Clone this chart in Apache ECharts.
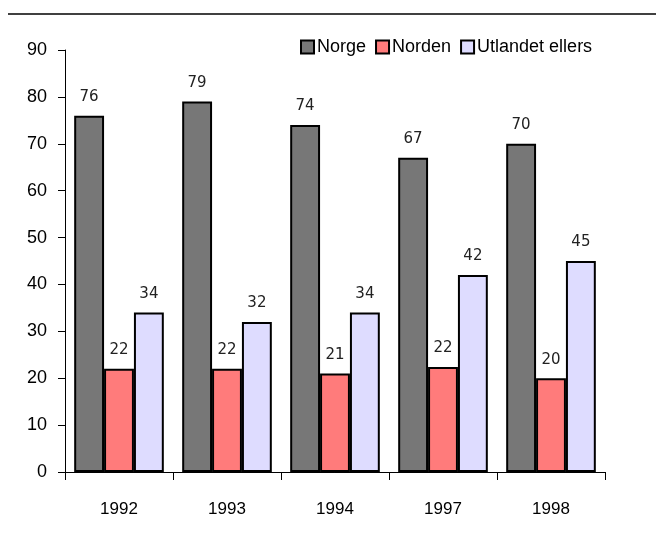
<!DOCTYPE html>
<html>
<head>
<meta charset="utf-8">
<script src="https://cdn.jsdelivr.net/npm/echarts@6/dist/echarts.min.js"></script>
<style>
  html, body { margin: 0; padding: 0; background: #fff; }
  #chart { width: 666px; height: 538px; }
</style>
</head>
<body>
<div id="chart"></div>
<script>
// chart data
const years = ['1992', '1993', '1994', '1997', '1998']
const norge = [76, 79, 74, 67, 70]
const norden = [22, 22, 21, 22.4, 20]
const utlandet = [34, 32, 34, 42, 45]
const seriesNames = ['Norge', 'Norden', 'Utlandet ellers']

const sans = '"Liberation Sans Narrow", "Liberation Sans", Arial, sans-serif'

const label = {
  show: true,
  position: 'top',
  distance: 10,
  color: '#222',
  fontSize: 15,
  fontFamily: 'DejaVu Sans, sans-serif',
  backgroundColor: '#fff',
  padding: [1, 2],
  formatter: p => Math.round(p.value)
}

const makeSeries = (name, data, color) => ({
  name: name,
  type: 'bar',
  data: data,
  barGap: '0%',
  barCategoryGap: '17%',
  itemStyle: { color: color, borderColor: '#000', borderWidth: 2 },
  label: label
})

const chart = echarts.init(document.getElementById('chart'))
chart.setOption({
  animation: false,
  grid: { left: 65, right: 61, top: 50, bottom: 66 },
  graphic: [{
    type: 'line',
    shape: { x1: 8, y1: 14, x2: 656, y2: 14 },
    style: { stroke: '#000', lineWidth: 1.5 }
  }],
  legend: {
    data: seriesNames,
    left: 295,
    top: 33,
    itemWidth: 13,
    itemHeight: 13,
    itemGap: 9,
    icon: 'rect',
    textStyle: { fontSize: 18, fontFamily: sans, color: '#000', padding: [0, 0, 0, -2] }
  },
  xAxis: {
    type: 'category',
    data: years,
    axisLine: { lineStyle: { color: '#000', width: 1 } },
    axisTick: { show: true, length: 8, lineStyle: { color: '#000', width: 1 } },
    axisLabel: { margin: 29, fontSize: 17, fontFamily: sans, color: '#000' }
  },
  yAxis: {
    type: 'value',
    min: 0,
    max: 90,
    interval: 10,
    axisLine: { show: true, lineStyle: { color: '#000', width: 1 } },
    axisTick: { show: true, length: 7, lineStyle: { color: '#000' } },
    axisLabel: { margin: 18, fontSize: 18, fontFamily: sans, color: '#000' },
    splitLine: { show: false }
  },
  series: [
    makeSeries(seriesNames[0], norge, '#777777'),
    makeSeries(seriesNames[1], norden, '#ff7b7b'),
    makeSeries(seriesNames[2], utlandet, '#dedcff')
  ]
})
</script>
</body>
</html>
